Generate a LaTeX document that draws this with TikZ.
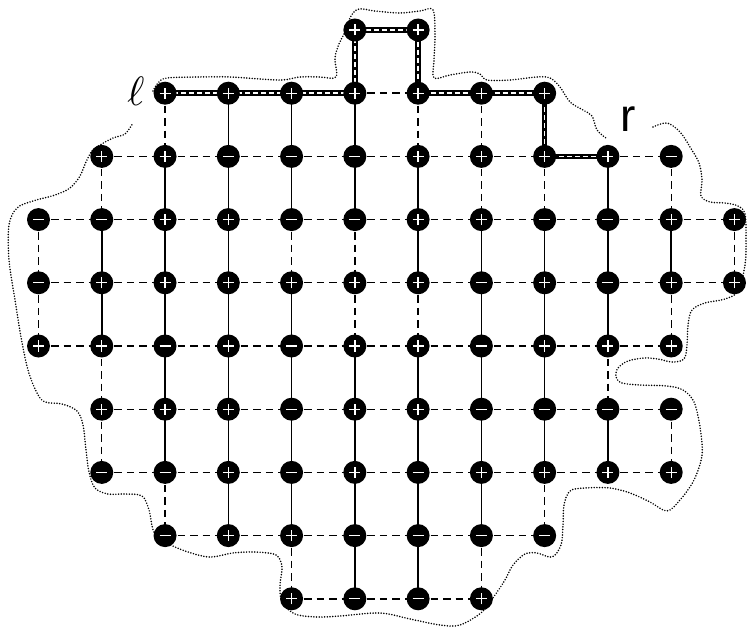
\documentclass[tikz,border=0pt]{standalone}
\usepackage{graphicx}
\usepackage{fontspec}
\newfontfamily\rfont{Liberation Sans}
\usetikzlibrary{backgrounds}
\begin{document}
\begin{tikzpicture}[x=1pt,y=-1pt,
  spin/.style={circle, fill=black, inner sep=0pt, minimum size=23pt},
  spinp/.style={spin, path picture={\draw[white, line width=1.3pt, shift={(path picture bounding box.center)}] (-5.5pt,0pt)--(5.5pt,0pt) (0pt,-5.5pt)--(0pt,5.5pt);}},
  spinm/.style={spin, path picture={\draw[white, line width=1.3pt, shift={(path picture bounding box.center)}] (-5.5pt,0pt)--(5.5pt,0pt);}},
  dashedge/.style={line width=1.4pt, dash pattern=on 7.5pt off 5pt},
  solidedge/.style={line width=1.5pt},
  hlband/.style={line width=5.5pt, black, line join=miter},
  hldash/.style={line width=1.5pt, white, dash pattern=on 5pt off 3pt},
  boundary/.style={line width=1.7pt, line cap=round, dash pattern=on 0pt off 2.7pt}
]
\useasboundingbox (0,0) rectangle (747,628);

% spins
\foreach \r/\lst in {
  0/{5/p,6/p},
  1/{2/p,3/p,4/p,5/p,6/p,7/p,8/p},
  2/{1/p,2/p,3/m,4/m,5/m,6/p,7/p,8/p,9/p,10/m},
  3/{0/m,1/m,2/p,3/p,4/m,5/m,6/p,7/p,8/m,9/m,10/p,11/p},
  4/{0/m,1/p,2/p,3/p,4/p,5/p,6/p,7/m,8/p,9/m,10/p,11/p},
  5/{0/p,1/p,2/m,3/p,4/m,5/p,6/p,7/m,8/p,9/p,10/p},
  6/{1/p,2/p,3/p,4/m,5/p,6/p,7/m,8/m,9/m,10/m},
  7/{1/m,2/m,3/p,4/m,5/p,6/m,7/p,8/p,9/p,10/p},
  8/{2/m,3/p,4/p,5/m,6/m,7/m,8/m},
  9/{4/p,5/m,6/m,7/p}}{
  \foreach \c/\sg in \lst {
    \node[spin\sg] (n-\c-\r) at ({38.5+63.27*\c},{30+63.2*\r}) {};
  }
}

\begin{scope}[on background layer]
  % horizontal dashed edges
  \foreach \r/\a/\b in {2/1/7,3/0/10,4/0/10,5/0/9,6/1/9,7/1/9,8/2/7,9/4/6}{
    \foreach \c in {\a,...,\b}{
      \pgfmathtruncatemacro\nx{\c+1}
      \draw[dashedge] (n-\c-\r.center)--(n-\nx-\r.center);
    }
  }
  \draw[dashedge] (n-5-1.center)--(n-6-1.center);
  \draw[dashedge] (n-9-2.center)--(n-10-2.center);
  % vertical dashed edges
  \foreach \c/\r in {0/3,0/4,1/2,1/5,1/6,2/1,2/7,4/3,4/8,5/3,5/4,6/1,6/4,7/1,7/2,7/8,8/2,8/7,9/5,10/2,10/4,10/6,11/3}{
    \pgfmathtruncatemacro\nr{\r+1}
    \draw[dashedge] (n-\c-\r.center)--(n-\c-\nr.center);
  }
  % vertical solid edges
  \foreach \c/\r in {1/3,1/4,2/2,2/3,2/4,2/5,2/6,3/1,3/2,3/3,3/4,3/5,3/6,3/7,4/1,4/2,4/4,4/5,4/6,4/7,5/1,5/2,5/5,5/6,5/7,5/8,6/2,6/3,6/5,6/6,6/7,6/8,7/3,7/4,7/5,7/6,7/7,8/3,8/4,8/5,8/6,9/2,9/3,9/4,9/6,10/3}{
    \pgfmathtruncatemacro\nr{\r+1}
    \draw[solidedge] (n-\c-\r.center)--(n-\c-\nr.center);
  }
  % highlighted path
  \draw[hlband] (n-2-1.center)--(n-3-1.center)--(n-4-1.center)--(n-5-1.center)--(n-5-0.center)--(n-6-0.center)--(n-6-1.center)--(n-7-1.center)--(n-8-1.center)--(n-8-2.center)--(n-9-2.center);
  \draw[hldash] (n-2-1.center)--(n-3-1.center)--(n-4-1.center)--(n-5-1.center)--(n-5-0.center)--(n-6-0.center)--(n-6-1.center)--(n-7-1.center)--(n-8-1.center)--(n-8-2.center)--(n-9-2.center);
\end{scope}

% boundary (top arc, from l to r)
\draw[boundary] plot[smooth, tension=0.55] coordinates {
  (153,91) (158,83) (167,78) (200,77) (230,77) (260,79) (283,80) (300,77) (320,77) (336,77)
  (335,58) (339,44) (346,30) (351,16) (359,9) (375,11) (400,13) (420,11) (433,10)
  (435,35) (434,60) (434,78) (450,75) (470,72) (480,74) (487,80) (510,80) (537,77) (550,78)
  (560,87) (570,102) (583,110) (592,116) (597,130) (606,138)};

% boundary (rest, from r round to l)
\draw[boundary] plot[smooth, tension=0.55] coordinates {
  (653,127) (667,123) (680,132) (690,147) (699,163) (702,180) (701,196) (710,202) (725,203)
  (738,206) (745,214) (746,240) (745,265) (738,291) (725,299) (705,303) (692,310) (688,325)
  (687,345) (684,359) (672,362) (658,359) (644,358) (628,361) (618,368) (616,377) (622,383)
  (640,385) (667,386) (683,390) (694,402) (700,427) (702,455) (694,480) (680,500) (667,511)
  (650,502) (630,493) (610,488) (585,488) (570,491) (564,505) (563,525) (561,545) (552,557)
  (537,553) (525,554) (513,565) (505,580) (495,595) (482,612) (460,625) (440,625) (410,619)
  (380,613) (340,616) (317,617) (295,614) (282,602) (280,585) (282,567) (276,555) (255,552)
  (233,553) (210,557) (188,552) (167,543) (154,532) (149,510) (142,496) (125,494) (108,494)
  (95,488) (89,472) (86,450) (83,425) (77,411) (62,404) (45,402) (37,393) (28,370) (21,337)
  (15,300) (9,260) (9,225) (17,208) (33,201) (55,195) (70,188) (80,176) (86,162) (92,151)
  (100,145) (113,138) (125,134) (133,123)};

% labels
\node[anchor=base, inner sep=0pt] (ell) at (136,106) {\scalebox{4.1}{$\ell$}};
\node[font=\rfont\fontsize{46}{46}\selectfont, anchor=base, inner sep=0pt] (rlab) at (628,132) {r};
\end{tikzpicture}
\end{document}
